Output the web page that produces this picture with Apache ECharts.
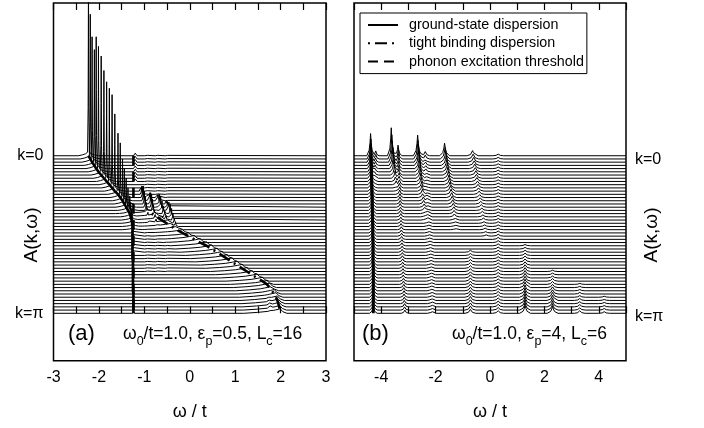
<!DOCTYPE html>
<html><head><meta charset="utf-8">
<script src="https://cdn.jsdelivr.net/npm/echarts@6/dist/echarts.min.js"></script>
<style>html,body{margin:0;padding:0;background:#fff}#c{width:704px;height:428px}</style>
</head><body><div id="c"></div>
<script>
// ---------------- DATA ----------------
const N_TRACES = 50;              // k = 0 ... pi, trace index 0 = k=0
const kLabels = ['k=0', 'k=\u03c0'];
const aTicks = [-3, -2, -1, 0, 1, 2, 3];
const bTicks = [-4, -2, 0, 2, 4];

// panel (a): quasi-particle (ground state) peak position / height per trace
const aGsPos = [-2.23,-2.19,-2.15,-2.10,-2.06,-2.01,-1.95,-1.89,-1.83,-1.77,
  -1.71,-1.65,-1.58,-1.53,-1.48,-1.44,-1.40,-1.36,-1.32,-1.30,
  -1.28,-1.27,-1.26,-1.26,-1.26,-1.26,-1.26,-1.26,-1.26,-1.26,
  -1.26,-1.26,-1.26,-1.25,-1.25,-1.25,-1.25,-1.25,-1.25,-1.25,
  -1.25,-1.25,-1.25,-1.24,-1.24,-1.24,-1.24,-1.24,-1.24,-1.24];
const aGsHeight = [60,45,39,36,41,39,37,33.5,31,30,
  29,24,19,17,13,11,9,7,5.5,4.5,
  3.5,3,2.5,2.2,2,2,1.9,1.9,1.8,1.8,
  1.8,1.7,1.7,1.6,1.6,1.5,1.5,1.5,1.4,1.4,
  1.4,1.3,1.3,1.3,1.3,1.2,1.2,1.2,1.2,1.2];
// Lorentzian-like foot of the quasi-particle peaks (height per trace, first 24 traces)
const aGsFoot = [1.3,1.3,1.3,1.3,1.3,1.3,1.3,1.3,1.3,1.3,
  1.3,1.3,1.2,1.2,1.2,1.1,1.1,1.0,1.0,0.9,0.8,0.7,0.6,0.5];
// panel (a): persistent small peaks above the threshold [omega, last trace, height]
const aColumns = [[-1.20, 8, 0.8], [-0.95, 36, 0.5], [-0.72, 36, 0.5], [-0.50, 36, 0.45]];
// panel (a): one-phonon satellite combs
const aComb1Start = 11;
const aComb1Pos = [-1.08,-1.06,-1.04,-1.02,-1.00,-0.98,-0.96,-0.94,-0.92,-0.90,-0.88];
const aComb1H = [1.5,2.5,3.5,4.5,4,3.2,2.5,1.9,1.4,1,0.7];
const aComb2Start = 13;
const aComb2Pos = [-0.90,-0.88,-0.86,-0.84,-0.82,-0.80,-0.78,-0.76,-0.74,-0.72,-0.70];
const aComb2H = [1.5,2.5,3.5,4,3.5,2.8,2.2,1.7,1.3,0.9,0.6];
const aComb3Start = 13;
const aComb3Pos = [-0.72,-0.70,-0.67,-0.64,-0.61,-0.58,-0.55,-0.52,-0.49,-0.46,-0.43];
const aComb3H = [1.2,2,3,3.5,3,2.4,1.9,1.4,1,0.8,0.6];
const aComb4Start = 15;
const aComb4Pos = [-0.52,-0.49,-0.46,-0.43,-0.40,-0.37,-0.34,-0.31,-0.28,-0.25,-0.22];
const aComb4H = [1,1.8,2.6,3,2.6,2,1.6,1.2,0.9,0.7,0.5];
// panel (a): tight-binding band (broad humps) from trace 18
const aTbStart = 18;
const aTbPos = [-0.84,-0.73,-0.62,-0.51,-0.40,-0.29,-0.16,-0.03,0.10,0.23,
  0.37,0.48,0.60,0.71,0.82,0.93,1.04,1.15,1.26,1.37,
  1.48,1.60,1.70,1.76,1.81,1.86,1.90,1.93,1.95,1.97,1.98,1.99];
const aTbH = [1.0,1.0,1.0,1.0,1.0,1.0,1.0,1.0,1.2,1.2,
  1.2,1.2,1.2,1.2,1.2,1.2,1.2,1.2,1.2,1.2,
  1.2,1.2,1.2,1.4,1.4,1.4,1.4,1.4,1.4,1.4,1.4,1.4];
const aPiStart = 41;
const aPiPos = [1.70,1.71,1.72,1.73,1.74,1.75,1.76,1.77,1.78];
const aPiH = [0.6,0.7,0.8,0.9,1.0,1.1,1.2,1.3,1.4];
const aThreshold = [[-1.24, 0], [-1.24, 49]];   // [omega, trace index]

// panel (b)
const bGsPos = [-4.39,-4.38,-4.38,-4.37,-4.37,-4.36,-4.36,-4.36,-4.35,-4.35,
  -4.35,-4.34,-4.34,-4.34,-4.33,-4.33,-4.33,-4.33,-4.32,-4.32,
  -4.32,-4.32,-4.31,-4.31,-4.31,-4.31,-4.31,-4.30,-4.30,-4.30,
  -4.30,-4.30,-4.30,-4.30,-4.30,-4.29,-4.29,-4.29,-4.29,-4.29,
  -4.29,-4.29,-4.29,-4.29,-4.29,-4.29,-4.29,-4.29,-4.29,-4.29];
const bGsHeight = [6.9,6.2,5.6,5.1,4.7,4.4,4.1,3.9,3.7,3.5,
  3.4,3.3,3.2,3.1,3.0,3.0,2.9,2.9,2.8,2.8,
  2.8,2.7,2.7,2.7,2.6,2.6,2.6,2.6,2.5,2.5,
  2.5,2.5,2.5,2.5,2.5,2.5,2.5,2.5,2.5,2.5,
  2.5,2.5,2.5,2.5,2.5,2.5,2.5,2.5,2.5,2.5];
const bSidePos = [-4.20,-4.20,-4.21,-4.21,-4.22,-4.22,-4.23,-4.23,-4.24,-4.24,-4.25,-4.25];
const bSideH = [1.5,1.4,1.3,1.2,1.1,1.0,0.9,0.8,0.7,0.6,0.5,0.4];
const b1Pos = [-3.63,-3.61,-3.59,-3.57,-3.55,-3.53,-3.51,-3.49,-3.47,-3.45,-3.43,-3.41];
const b1H = [8.7,7.5,6.5,5.5,4.6,3.8,3.0,2.3,1.7,1.2,0.8,0.5];
const b2Pos = [-3.38,-3.37,-3.37,-3.36,-3.36,-3.35,-3.35,-3.34,-3.34,-3.33,
  -3.33,-3.32,-3.32,-3.31,-3.31,-3.30,-3.30,-3.29,-3.29,-3.28,
  -3.28,-3.27,-3.27,-3.26,-3.26,-3.25,-3.25,-3.24,-3.24,-3.23,
  -3.23,-3.22,-3.22,-3.21,-3.21,-3.20,-3.20,-3.19,-3.19,-3.18,
  -3.18,-3.17,-3.17,-3.16,-3.16,-3.15,-3.15,-3.14,-3.14,-3.13];
const b2H = [3.3,3.0,2.7,2.4,2.2,2.0,1.8,1.7,1.6,1.5,
  1.4,1.3,1.3,1.2,1.2,1.1,1.1,1.0,1.0,1.0,
  0.9,0.9,0.9,0.9,0.9,0.9,0.9,0.9,0.9,0.9,
  0.9,0.9,0.9,0.9,0.9,0.9,0.9,0.9,0.9,0.9,
  1.0,1.0,1.0,1.0,1.0,1.0,1.0,1.0,1.0,1.0];
const b3Pos = [-2.66,-2.65,-2.63,-2.62,-2.60,-2.59,-2.57,-2.56,-2.54,-2.53,-2.51,
  -2.50,-2.48,-2.47,-2.45,-2.44,-2.42,-2.41,-2.40,-2.39,-2.38];
const b3H = [6.4,5.8,5.2,4.7,4.2,3.7,3.3,2.9,2.6,2.3,2.0,1.8,1.6,1.4,1.2,1.1,1.0,0.9,0.8,0.7,0.6];
const b4Pos = [-2.38,-2.38,-2.37,-2.37,-2.36,-2.36,-2.35,-2.35,-2.34,-2.34,
  -2.33,-2.33,-2.32,-2.32,-2.31,-2.31,-2.30,-2.30,-2.29,-2.29,
  -2.28,-2.27,-2.27,-2.26,-2.25,-2.24,-2.24,-2.23,-2.22,-2.21,
  -2.21,-2.20,-2.20,-2.19,-2.19,-2.18,-2.18,-2.17,-2.17,-2.17,
  -2.16,-2.16,-2.16,-2.15,-2.15,-2.15,-2.14,-2.14,-2.14,-2.14];
const b4H = [1.3,1.2,1.1,1.0,0.9,0.9,0.8,0.8,0.7,0.7,
  0.7,0.7,0.7,0.7,0.7,0.7,0.7,0.7,0.7,0.7,
  0.7,0.7,0.7,0.7,0.7,0.7,0.7,0.7,0.7,0.7,
  0.7,0.7,0.7,0.7,0.7,0.7,0.7,0.8,0.8,0.8,
  0.8,0.8,0.8,0.8,0.8,0.8,0.8,0.8,0.8,0.8];
const b5Pos = [-1.67,-1.65,-1.63,-1.61,-1.59,-1.57,-1.55,-1.53,-1.51,-1.49,-1.47,-1.45,
  -1.43,-1.41,-1.39,-1.37,-1.35,-1.33,-1.32,-1.31,-1.30,-1.29,-1.28,-1.27];
const b5H = [3.9,3.6,3.3,3.0,2.8,2.6,2.4,2.2,2.0,1.9,1.8,1.7,1.6,1.5,1.4,1.3,1.2,1.1,1.0,0.9,0.8,0.7,0.6,0.5];
const b6Pos = [-0.64,-0.62,-0.60,-0.58,-0.56,-0.54,-0.52,-0.50,-0.48,-0.46,-0.44,-0.42,-0.40,
  -0.38,-0.36,-0.34,-0.32,-0.30,-0.28,-0.26,-0.24,-0.22,-0.20,-0.18,-0.16,-0.14];
const b6H = [1.6,1.5,1.5,1.4,1.4,1.3,1.3,1.2,1.2,1.1,1.1,1.0,1.0,0.9,0.9,0.8,0.8,0.7,0.7,0.6,0.6,0.5,0.5,0.5,0.4,0.4];
// panel (b): sidebands at fixed omega [first trace, omega, heights per trace]
const bLateStart = [30, 28, 36, 40, 44, 0];
const bLatePos = [-0.72, 1.29, 2.30, 3.30, 4.20, 0.30];
const bLateHeights = [
  [0.6,0.6,0.7,0.7,0.8,0.8,0.9,0.9,1.0,1.0,1.0,1.1,1.1,1.1,1.2,1.2,1.2,1.2,1.2,1.2],
  [0.4,0.5,0.6,0.7,0.8,0.9,1.0,1.1,1.2,1.3,1.4,1.5,1.6,1.7,1.8,1.9,2.0,2.1,2.2,2.3,2.4,2.5],
  [0.4,0.5,0.6,0.8,0.9,1.0,1.2,1.3,1.5,1.6,1.8,1.9,2.0,2.2],
  [0.3,0.4,0.4,0.5,0.5,0.6,0.6,0.7,0.7,0.8],
  [0.3,0.3,0.4,0.4,0.5,0.5],
  [0.5,0.5,0.5,0.5,0.5,0.5,0.5,0.5,0.5,0.5,0.5,0.5,0.5,0.5,0.5,0.5,0.5,0.5,0.5,0.5,
   0.5,0.5,0.5,0.5,0.6,0.6,0.6,0.6,0.6,0.6,0.6,0.6,0.6,0.6,0.7,0.7,0.7,0.7,0.7,0.7,
   0.7,0.7,0.7,0.8,0.8,0.8,0.8,0.8,0.8,0.8]
];

const legendNames = ['ground-state dispersion', 'tight binding dispersion', 'phonon excitation threshold'];

// ---------------- drawing helpers ----------------
const FONT = 'Liberation Sans, Arial, Helvetica, sans-serif';
const SHAPES = {
  spike: [[-4,0],[-1.5,0.25],[-0.6,0.6],[0,1],[0.6,0.6],[1.5,0.25],[4,0]],
  foot:  [[-5,0],[-3,0.2],[-1.5,0.45],[0,1],[1.5,0.45],[3,0.2],[5,0]],
  hump:  [[-8,0],[-5,0.2],[-2.5,0.45],[-1,0.75],[0,1],[0.6,0.35],[1.5,0]]
};
function prof(p, x) {
  const s = SHAPES[p.shape], u = (x - p.x) / p.w;
  if (u <= s[0][0] || u >= s[s.length - 1][0]) return 0;
  for (let j = 1; j < s.length; j++) {
    if (u <= s[j][0]) {
      const t = (u - s[j-1][0]) / (s[j][0] - s[j-1][0]);
      return p.h * (s[j-1][1] + t * (s[j][1] - s[j-1][1]));
    }
  }
  return 0;
}
function branch(start, pos, h, w, shape) { return {start, pos, h, w, shape}; }
function constBranch(omega, start, heights, w, shape) {
  return {start, pos: heights.map(() => omega), h: heights, w, shape};
}
function buildTrace(branches, i, xmin, xmax) {
  const peaks = [];
  branches.forEach(b => {
    const j = i - b.start;
    if (j >= 0 && j < b.pos.length && j < b.h.length) peaks.push({x: b.pos[j], h: b.h[j], w: b.w, shape: b.shape});
  });
  const xs = [xmin, xmax];
  peaks.forEach(p => SHAPES[p.shape].forEach(v => xs.push(p.x + v[0] * p.w)));
  xs.sort((a, b) => a - b);
  const base = N_TRACES - 1 - i;
  return xs.filter(x => x >= xmin && x <= xmax).map(x => {
    let y = 0;
    peaks.forEach(p => { y = Math.max(y, prof(p, x)); });
    return [x, base + y];
  });
}

const aBranches = [
  branch(0, aGsPos, aGsHeight, 0.005, 'spike'),
  branch(0, aGsPos, aGsFoot, 0.045, 'foot'),
  branch(aComb1Start, aComb1Pos, aComb1H, 0.008, 'spike'),
  branch(aComb2Start, aComb2Pos, aComb2H, 0.008, 'spike'),
  branch(aComb3Start, aComb3Pos, aComb3H, 0.008, 'spike'),
  branch(aComb4Start, aComb4Pos, aComb4H, 0.008, 'spike'),
  branch(aTbStart, aTbPos, aTbH, 0.1, 'hump'),
  branch(aPiStart, aPiPos, aPiH, 0.015, 'spike')
];
aColumns.forEach(c => {
  const hs = []; for (let i = 0; i <= c[1]; i++) hs.push(c[2]);
  aBranches.push(constBranch(c[0], 0, hs, 0.01, 'spike'));
});
const bBranches = [
  branch(0, bGsPos, bGsHeight, 0.035, 'spike'),
  branch(0, bSidePos, bSideH, 0.03, 'spike'),
  branch(0, b1Pos, b1H, 0.035, 'spike'),
  branch(0, b2Pos, b2H, 0.035, 'spike'),
  branch(0, b3Pos, b3H, 0.04, 'spike'),
  branch(0, b4Pos, b4H, 0.04, 'spike'),
  branch(0, b5Pos, b5H, 0.045, 'spike'),
  branch(0, b6Pos, b6H, 0.05, 'spike')
];
bLatePos.forEach((om, n) => bBranches.push(constBranch(om, bLateStart[n], bLateHeights[n], 0.05, 'spike')));

const series = [];
for (let i = 0; i < N_TRACES; i++) {
  series.push({type: 'line', xAxisIndex: 0, yAxisIndex: 0, data: buildTrace(aBranches, i, -3, 3),
    showSymbol: false, symbol: 'none', silent: true, color: '#000', lineStyle: {color: '#000', width: 1}, z: 2});
  series.push({type: 'line', xAxisIndex: 2, yAxisIndex: 1, data: buildTrace(bBranches, i, -5, 5),
    showSymbol: false, symbol: 'none', silent: true, color: '#000', lineStyle: {color: '#000', width: 1}, z: 2});
}
// overlay dispersions
series.push({name: legendNames[0], type: 'line', xAxisIndex: 0, yAxisIndex: 0, symbol: 'none', color: '#000',
  data: aGsPos.map((x, i) => [x, N_TRACES - 1 - i]), lineStyle: {color: '#000', width: 2.6}, z: 5});
series.push({name: legendNames[1], type: 'line', xAxisIndex: 0, yAxisIndex: 0, symbol: 'none', color: '#000',
  data: aTbPos.map((x, j) => [x, N_TRACES - 1 - (aTbStart + j)]),
  lineStyle: {color: '#000', width: 2.6, type: [2, 5, 12, 5]}, z: 5});
series.push({name: legendNames[2], type: 'line', xAxisIndex: 0, yAxisIndex: 0, symbol: 'none', color: '#000',
  data: aThreshold.map(d => [d[0], N_TRACES - 1 - d[1]]),
  lineStyle: {color: '#000', width: 2.6, type: [10, 6]}, z: 5});
series.push({name: legendNames[0], type: 'line', xAxisIndex: 2, yAxisIndex: 1, symbol: 'none', color: '#000',
  data: bGsPos.map((x, i) => [x, N_TRACES - 1 - i]), lineStyle: {color: '#000', width: 2.8}, z: 5});

const YMIN = -14.74, YMAX = 96.5;
function xAx(grid, min, max, interval, labels, top) {
  return {type: 'value', gridIndex: grid, min, max, interval, position: top ? 'top' : 'bottom',
    axisLine: {show: false}, splitLine: {show: false},
    axisTick: {show: true, inside: true, length: 7, lineStyle: {color: '#000', width: 1.2}},
    axisLabel: top ? {show: false} : {show: true, color: '#000', fontSize: 16, fontFamily: FONT, margin: 9,
      formatter: v => labels.indexOf(Math.round(v * 100) / 100) >= 0 ? String(v) : ''},
    name: top ? '' : '\u03c9 / t', nameLocation: 'middle', nameGap: 42,
    nameTextStyle: {color: '#000', fontSize: 18, fontFamily: FONT}};
}
function yAx(grid, right) {
  return {type: 'value', gridIndex: grid, min: YMIN, max: YMAX, position: right ? 'right' : 'left',
    axisLine: {show: false}, axisTick: {show: false}, splitLine: {show: false},
    axisLabel: {show: !right, customValues: [N_TRACES - 1, 0], color: '#000', fontSize: 16, fontFamily: FONT,
      margin: 10, formatter: v => v > 10 ? kLabels[0] : kLabels[1]}};
}

const subRich = {
  m: {fontSize: 17.5, fontFamily: FONT, color: '#000', lineHeight: 20, verticalAlign: 'middle'},
  s: {fontSize: 12.5, fontFamily: FONT, color: '#000', lineHeight: 28, verticalAlign: 'bottom'}
};
const txt = (x, y, t, size, extra) => Object.assign({type: 'text', x, y,
  style: {text: t, fontSize: size, fontFamily: FONT, fill: '#000', align: 'left', verticalAlign: 'middle'}}, extra || {});

const option = {
  backgroundColor: '#fff',
  animation: false,
  grid: [
    {left: 53.5, top: 3, width: 272.5, height: 357.7, show: true, borderColor: '#000', borderWidth: 1.5},
    {left: 354, top: 3, width: 272, height: 357.7, show: true, borderColor: '#000', borderWidth: 1.5}
  ],
  xAxis: [xAx(0, -3, 3, 0.5, aTicks, false), xAx(0, -3, 3, 0.5, aTicks, true),
          xAx(1, -5, 5, 1, bTicks, false), xAx(1, -5, 5, 1, bTicks, true)],
  yAxis: [yAx(0, false), yAx(1, true)],
  legend: {data: legendNames, orient: 'vertical', left: 360, top: 13, itemWidth: 30, itemHeight: 14, itemGap: 4.3,
    padding: [5, 3, 5, 7], borderColor: '#000', borderWidth: 1, backgroundColor: '#fff',
    itemStyle: {opacity: 0},
    textStyle: {color: '#000', fontSize: 14.3, fontFamily: FONT, padding: [0, 0, 0, 6]}, selectedMode: false},
  graphic: [
    txt(31.7, 235, 'A(k,\u03c9)', 19, {rotation: Math.PI / 2}),
    txt(652, 235, 'A(k,\u03c9)', 19, {rotation: Math.PI / 2}),
    txt(635, 160, kLabels[0], 16),
    txt(635, 317, kLabels[1], 16),
    txt(68, 334, '(a)', 22),
    txt(362, 334, '(b)', 22),
    {type: 'text', x: 123, y: 334, style: {text: '{m|\u03c9}{s|0}{m|/t=1.0, \u03b5}{s|p}{m|=0.5, L}{s|c}{m|=16}', rich: subRich, align: 'left', verticalAlign: 'middle'}},
    {type: 'text', x: 452, y: 334, style: {text: '{m|\u03c9}{s|0}{m|/t=1.0, \u03b5}{s|p}{m|=4, L}{s|c}{m|=6}', rich: subRich, align: 'left', verticalAlign: 'middle'}}
  ],
  series
};
option.graphic[0].style.align = 'center'; option.graphic[1].style.align = 'center';
const chart = echarts.init(document.getElementById('c'), null, {renderer: 'canvas'});
chart.setOption(option);
</script></body></html>
